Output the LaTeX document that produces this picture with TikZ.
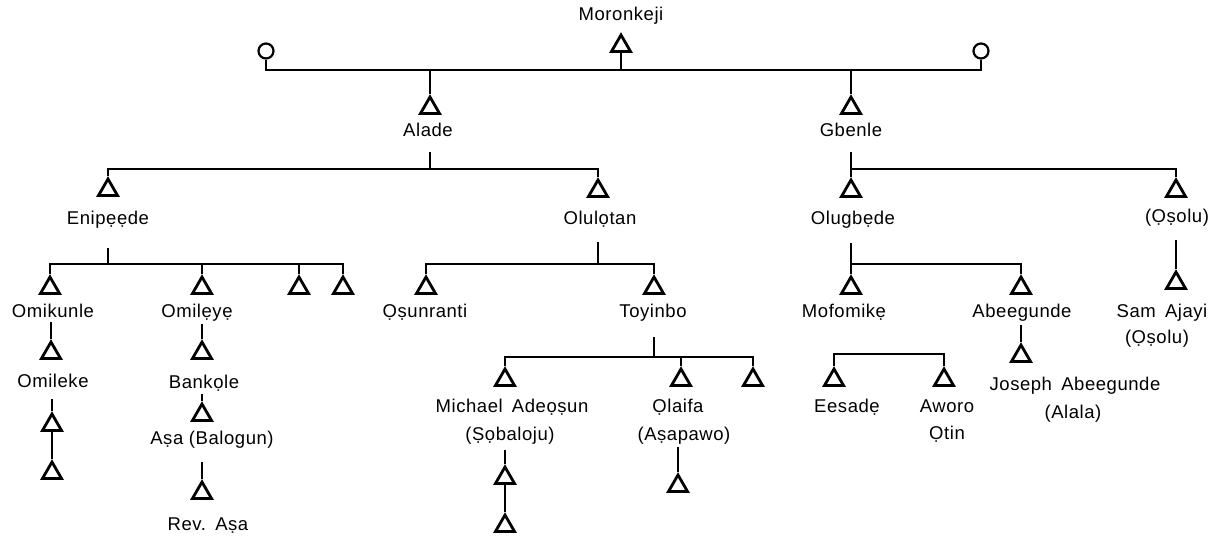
\documentclass[tikz,border=0pt]{standalone}
\usepackage{fontspec}
\setmainfont{Liberation Sans}[LetterSpace=3]
\usetikzlibrary{shapes.geometric}
\tikzset{>=stealth}
\tikzset{
  male/.style={regular polygon, regular polygon sides=3, draw, line width=2.8pt, minimum size=22pt, inner sep=0pt},
  female/.style={circle, draw, line width=2.2pt, minimum size=15pt, inner sep=0pt},
  lbl/.style={font=\fontsize{18.5}{22}\selectfont, inner sep=0pt, anchor=base},
  link/.style={line width=2.4pt}
}

\begin{document}
\begin{tikzpicture}[x=1pt, y=-1pt]
    \useasboundingbox (0,0) rectangle (1219,537);
    % generation 1
    \node[lbl] (moroL) at (621,21) {Moronkeji};
    \node[male] (moro) at (621,46) {};
    \node[female] (wifeA) at (266,51) {};
    \node[female] (wifeB) at (981,51) {};
    \coordinate (moroBar) at (621,70);
    \draw[link] (moro.south) -- (moroBar);
    \draw[link] (wifeA.south) |- (moroBar) -| (wifeB.south);
    % generation 2
    \node[male] (alade) at (430,108) {};
    \node[lbl] (aladeL) at (428,137) {Alade};
    \node[male] (gbenle) at (851,108) {};
    \node[lbl] (gbenleL) at (851,137) {Gbenle};
    \draw[link] (alade.corner 1) |- (moroBar);
    \draw[link] (gbenle.corner 1) |- (moroBar);
    \coordinate (aladeBar) at (430,169);
    \coordinate (gbenleBar) at (851,169);
    \draw[link] (aladeBar) -- ++(0,-17);
    \draw[link] (gbenleBar) -- ++(0,-17);
    % generation 3
    \node[male] (enip) at (108,190) {};
    \node[lbl] (enipL) at (108,225) {Enipẹẹde};
    \node[male] (olul) at (598,191) {};
    \node[lbl] (olulL) at (600,225) {Olulọtan};
    \node[male] (olug) at (851,191) {};
    \node[lbl] (olugL) at (853,225) {Olugbẹde};
    \node[male] (osolu) at (1176,191) {};
    \node[lbl] (osoluL) at (1177,223) {(Ọṣolu)};
    \draw[link] (enip.corner 1) |- (aladeBar) -| (olul.corner 1);
    \draw[link] (olug.corner 1) |- (gbenleBar) -| (osolu.corner 1);
    \coordinate (enipBar) at (108,264);
    \coordinate (olulBar) at (598,264);
    \coordinate (olugBar) at (851,264);
    \draw[link] (enipBar) -- ++(0,-16);
    \draw[link] (olulBar) -- ++(0,-22);
    \draw[link] (olugBar) -- ++(0,-21);
    % generation 4
    \node[male] (omik) at (50,288) {};
    \node[lbl] (omikL) at (53,318) {Omikunle};
    \node[male] (omil) at (202,288) {};
    \node[lbl] (omilL) at (197,318) {Omilẹyẹ};
    \node[male] (enipC) at (299,288) {};
    \node[male] (enipD) at (343,288) {};
    \draw[link] (omik.corner 1) |- (enipBar) -| (enipD.corner 1);
    \draw[link] (omil.corner 1) |- (enipBar);
    \draw[link] (enipC.corner 1) |- (enipBar);
    \node[male] (osun) at (426,288) {};
    \node[lbl] (osunL) at (425,318) {Ọṣunranti};
    \node[male] (toyi) at (654,288) {};
    \node[lbl] (toyiL) at (653,318) {Toyinbo};
    \draw[link] (osun.corner 1) |- (olulBar) -| (toyi.corner 1);
    \node[male] (mofo) at (851,288) {};
    \node[lbl] (mofoL) at (844,318) {Mofomikẹ};
    \node[male] (abee) at (1021,288) {};
    \node[lbl] (abeeL) at (1022,318) {Abeegunde};
    \draw[link] (mofo.corner 1) |- (olugBar) -| (abee.corner 1);
    \node[male] (sam) at (1176,283) {};
    \node[lbl] (samL) at (1162,318) {Sam\enspace Ajayi};
    \node[lbl] (samL2) at (1157,344) {(Ọṣolu)};
    \draw[link] (sam.corner 1) -- ++(0,-29);
    % Enipede line
    \node[male] (omle) at (51,353) {};
    \node[lbl] (omleL) at (53,388) {Omileke};
    \draw[link] (omle.corner 1) -- ++(0,-17);
    \node[male] (omleA) at (52,425) {};
    \node[male] (omleB) at (52,473) {};
    \draw[link] (omleA.corner 1) -- ++(0,-12);
    \draw[link] (omleA.south) -- (omleB.corner 1);
    \node[male] (bank) at (202,353) {};
    \node[lbl] (bankL) at (204,389) {Bankọle};
    \draw[link] (bank.corner 1) -- ++(0,-15);
    \node[male] (asa) at (202,415) {};
    \node[lbl] (asaL) at (212,444) {Aṣa (Balogun)};
    \draw[link] (asa.corner 1) -- ++(0,-7);
    \node[male] (rev) at (202,493) {};
    \node[lbl] (revL) at (208,530) {Rev.\enspace Aṣa};
    \draw[link] (rev.corner 1) -- ++(0,-17);
    % Toyinbo line
    \coordinate (toyiBar) at (654,357);
    \draw[link] (toyiBar) -- ++(0,-20);
    \node[male] (mich) at (505,380) {};
    \node[lbl] (michL) at (512,413) {Michael\enspace Adeọṣun};
    \node[lbl] (michL2) at (510,440) {(Ṣọbaloju)};
    \node[male] (olai) at (681,380) {};
    \node[lbl] (olaiL) at (678,413) {Ọlaifa};
    \node[lbl] (olaiL2) at (684,440) {(Aṣapawo)};
    \node[male] (toyiC) at (753,380) {};
    \draw[link] (mich.corner 1) |- (toyiBar) -| (toyiC.corner 1);
    \draw[link] (olai.corner 1) |- (toyiBar);
    \node[male] (michA) at (505,478) {};
    \node[male] (michB) at (505,526) {};
    \draw[link] (michA.corner 1) -- ++(0,-14);
    \draw[link] (michA.south) -- (michB.corner 1);
    \node[male] (olaiA) at (678,486) {};
    \draw[link] (olaiA.corner 1) -- ++(0,-25);
    % Mofomike and Abeegunde
    \node[male] (eesa) at (834,380) {};
    \node[lbl] (eesaL) at (847,413) {Eesadẹ};
    \node[male] (awor) at (944,380) {};
    \node[lbl] (aworL) at (947,413) {Aworo};
    \node[lbl] (aworL2) at (947,439) {Ọtin};
    \draw[link] (eesa.corner 1) -- ++(0,-12) -| (awor.corner 1);
    \node[male] (jose) at (1021,356) {};
    \node[lbl] (joseL) at (1075,391) {Joseph\enspace Abeegunde};
    \node[lbl] (joseL2) at (1073,418) {(Alala)};
    \draw[link] (jose.corner 1) -- ++(0,-17);
\end{tikzpicture}
\end{document}
